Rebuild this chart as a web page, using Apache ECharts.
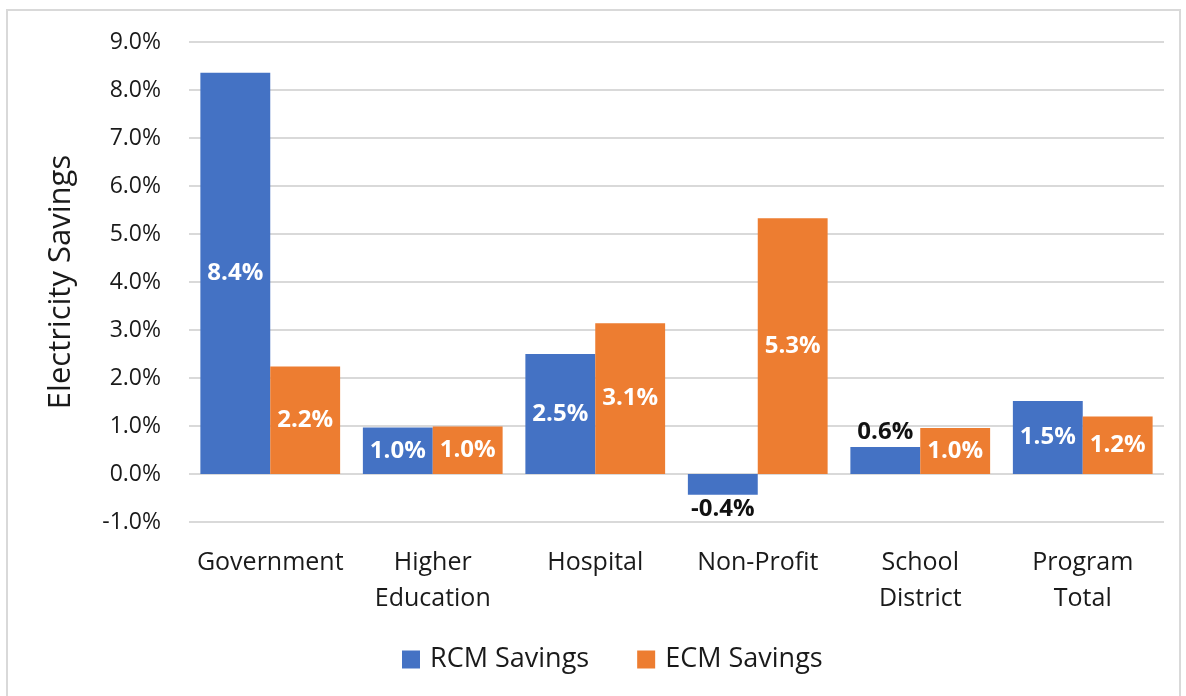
<!DOCTYPE html>
<html>
<head>
<meta charset="utf-8">
<script src="https://cdn.jsdelivr.net/npm/echarts@6/dist/echarts.min.js"></script>
<style>
  html, body { margin: 0; padding: 0; background: #fff; }
  #chart { width: 1186px; height: 696px; }
</style>
</head>
<body>
<div id="chart"></div>
<script>
// categories and values (percent)
const categories = ["Government", "Higher\nEducation", "Hospital", "Non-Profit", "School\nDistrict", "Program\nTotal"];
const rcmSavings = [8.36, 0.97, 2.5, -0.43, 0.56, 1.52];
const ecmSavings = [2.24, 0.99, 3.14, 5.33, 0.96, 1.2];
const yTicks = [-1, 0, 1, 2, 3, 4, 5, 6, 7, 8, 9];

const colors = ["#4472C4", "#ED7D31"];
const font = "'Open Sans', 'Liberation Sans', sans-serif";

// labels sit in the middle of the bar, except for the short ones
function barData(values, outside) {
  return values.map((v, i) => {
    const item = { value: v };
    if (outside[i]) {
      item.label = {
        position: v < 0 ? "bottom" : "top",
        color: "#111",
        distance: 3
      };
    }
    return item;
  });
}

const labelStyle = {
  show: true,
  position: "inside",
  color: "#fff",
  fontWeight: "bold",
  fontSize: 24,
  fontFamily: font,
  formatter: p => p.value.toFixed(1) + "%"
};

const myChart = echarts.init(document.getElementById("chart"));
const option = {
  animation: false,
  textStyle: { fontFamily: font },
  graphic: [
    {
      type: "rect",
      shape: { x: 7, y: 10, width: 1173, height: 700 },
      style: { fill: "none", stroke: "#d9d9d9", lineWidth: 2 }
    }
  ],
  legend: {
    bottom: 18,
    left: 397,
    itemWidth: 18,
    itemHeight: 18,
    itemGap: 48,
    icon: "rect",
    textStyle: { fontSize: 27, color: "#1a1a1a", fontFamily: font, padding: [0, 0, 0, 5] },
    data: ["RCM Savings", "ECM Savings"]
  },
  grid: {
    left: 189,
    right: 22,
    top: 42,
    bottom: 174
  },
  xAxis: {
    type: "category",
    data: categories,
    axisLine: { show: false, onZero: false },
    axisTick: { show: false },
    axisLabel: {
      fontSize: 25,
      color: "#1a1a1a",
      margin: 23,
      lineHeight: 36,
      interval: 0,
      fontFamily: font
    }
  },
  yAxis: {
    type: "value",
    min: yTicks[0],
    max: yTicks[yTicks.length - 1],
    interval: 1,
    name: "Electricity Savings",
    nameLocation: "middle",
    nameGap: 112,
    nameTextStyle: { fontSize: 31, color: "#1a1a1a", fontFamily: font },
    axisLine: { show: false },
    axisTick: { show: false },
    axisLabel: {
      fontSize: 23,
      color: "#1a1a1a",
      margin: 28,
      formatter: v => v.toFixed(1) + "%",
      fontFamily: font
    },
    splitLine: { lineStyle: { color: "#d9d9d9", width: 2 } }
  },
  series: [
    {
      name: "RCM Savings",
      type: "bar",
      data: barData(rcmSavings, [false, false, false, true, true, false]),
      itemStyle: { color: colors[0] },
      barGap: "0%",
      barCategoryGap: "14%",
      label: labelStyle
    },
    {
      name: "ECM Savings",
      type: "bar",
      data: barData(ecmSavings, [false, false, false, false, false, false]),
      itemStyle: { color: colors[1] },
      barGap: "0%",
      barCategoryGap: "14%",
      label: labelStyle
    }
  ]
};
myChart.setOption(option);
</script>
</body>
</html>
